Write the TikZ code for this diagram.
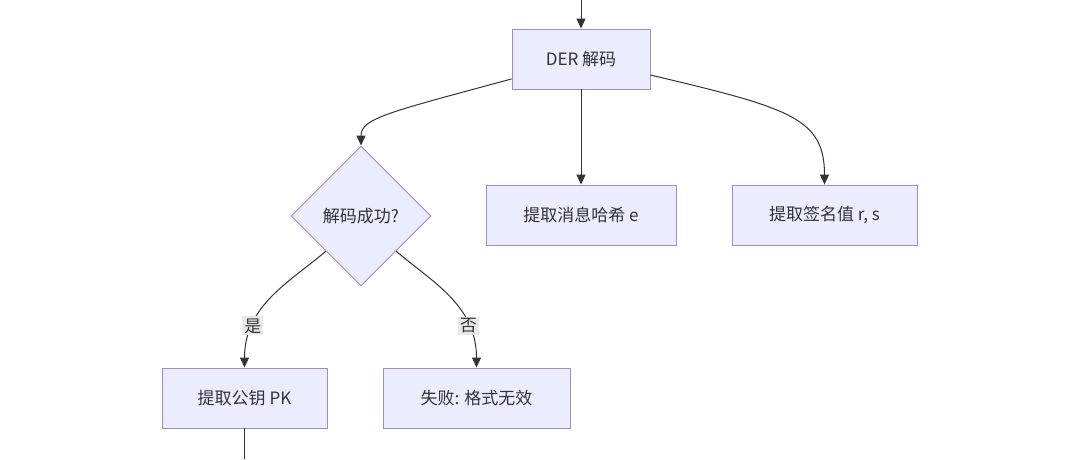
\documentclass[tikz,border=0pt]{standalone}
\usepackage{fontspec}
\setmainfont{Noto Sans CJK SC}
\usetikzlibrary{shapes.geometric, arrows.meta, positioning}
\definecolor{boxfill}{HTML}{ECECFF}
\definecolor{boxline}{HTML}{9F8AD6}
\definecolor{edgeline}{HTML}{333333}
\definecolor{lblfill}{HTML}{E8E8E8}
\tikzset{
  stepbox/.style={draw=boxline, fill=boxfill, line width=0.9pt, minimum height=60pt, inner sep=0pt, font=\fontsize{17}{20}\selectfont, text=edgeline},
  decision/.style={draw=boxline, fill=boxfill, line width=0.9pt, diamond, minimum width=140pt, minimum height=140pt, inner sep=0pt, font=\fontsize{17}{20}\selectfont, text=edgeline},
  flow/.style={draw=edgeline, line width=1pt, -{Triangle[length=10pt,width=9pt]}},
  edgelabel/.style={fill=lblfill, inner sep=2pt, font=\fontsize{17}{20}\selectfont, text=edgeline}
}
\begin{document}
\begin{tikzpicture}[x=1pt, y=-1pt]
      \useasboundingbox (0,0) rectangle (1080,459);
      % Nodes
      \node[stepbox, minimum width=138pt] (der) at (581,59) {DER 解码};
      \node[decision] (ok) at (361,216) {解码成功?};
      \node[stepbox, minimum width=190pt] (hash) at (581,215) {提取消息哈希 e};
      \node[stepbox, minimum width=185pt] (sig) at (824.5,215) {提取签名值 r, s};
      \node[stepbox, minimum width=165pt] (pk) at (244.5,398) {提取公钥 PK};
      \node[stepbox, minimum width=187pt] (fail) at (476.5,398) {失败: 格式无效};
      \coordinate (in) at (581,0);
      \coordinate (out) at (244.5,459);

      % Edges
      \draw[flow] (in) -- (der.north);
      \draw[flow] (der.196) .. controls (390,112) and (361,118) .. (ok.north);
      \draw[flow] (der.south) -- (hash.north);
      \draw[flow] (der.347) .. controls (790,108) and (824.5,118) .. (sig.north);
      \draw[flow] (ok.225) .. controls (290,282) and (244.5,305) .. (pk.north)
        node[edgelabel, pos=0.74] {是};
      \draw[flow] (ok.-45) .. controls (432,282) and (476.5,305) .. (fail.north)
        node[edgelabel, pos=0.74] {否};
      \draw[draw=edgeline, line width=1pt] (pk.south) -- (out);
    \end{tikzpicture}
\end{document}
